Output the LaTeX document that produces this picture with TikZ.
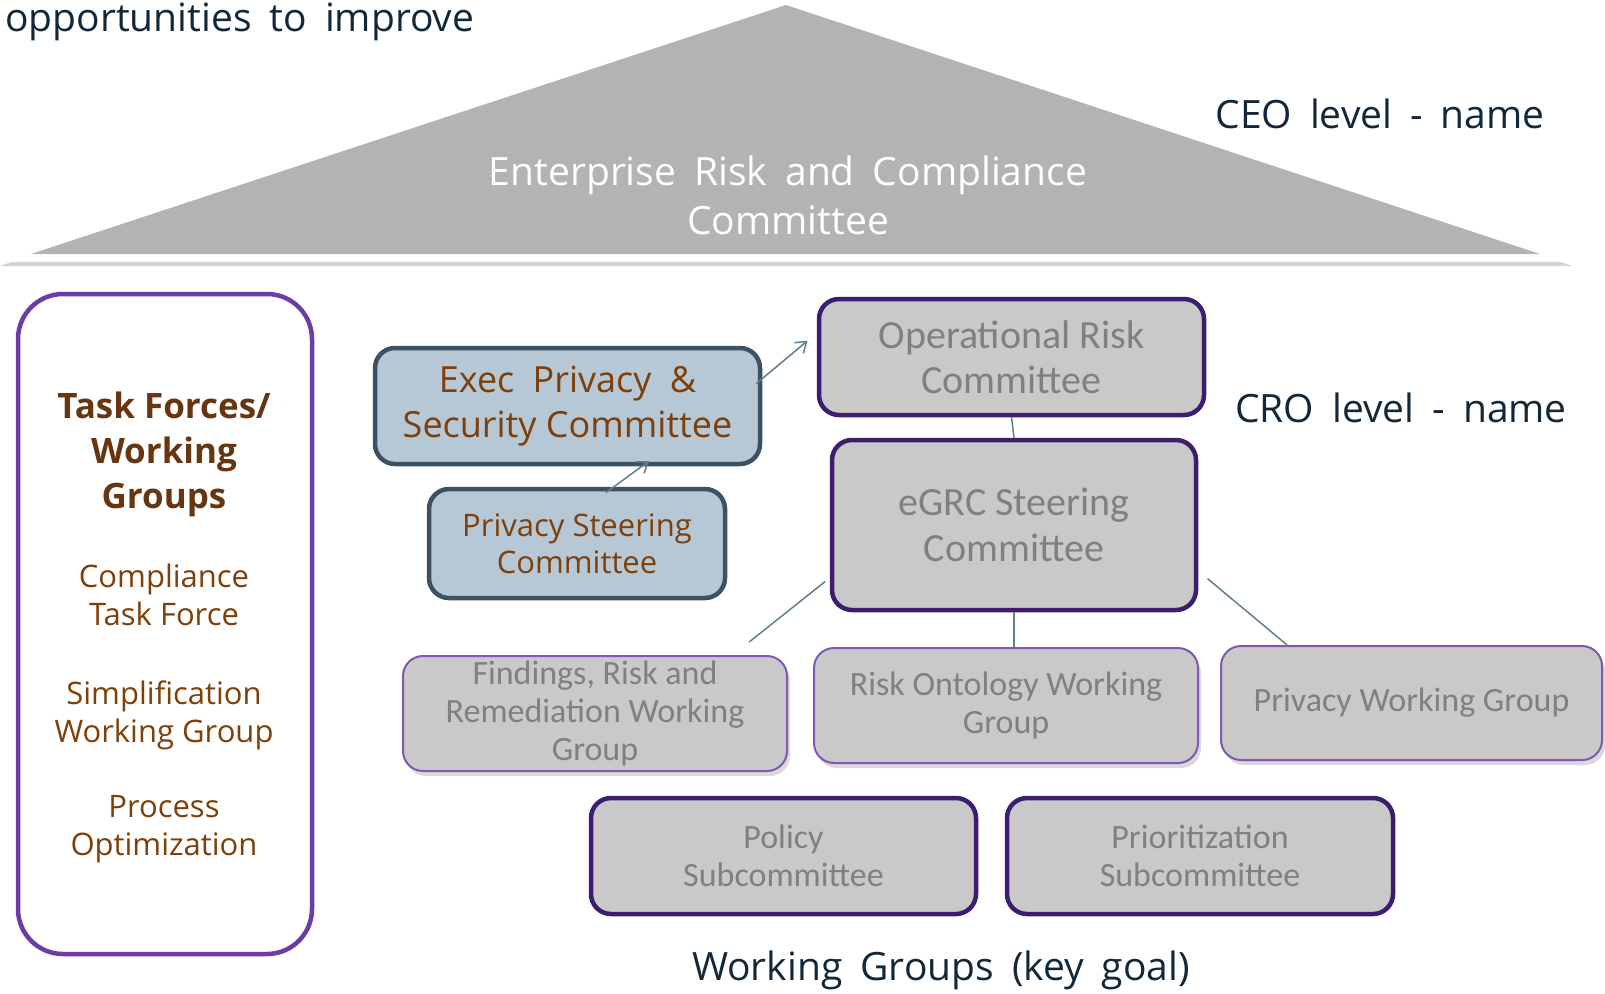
\documentclass[tikz,border=0pt]{standalone}
\usepackage{fontspec}
\setmainfont{Carlito}
\newfontfamily\labelfont{Open Sans}
\usetikzlibrary{arrows.meta, shadows}
\newcommand\widespaces{\spaceskip=18pt\relax}
\definecolor{trigray}{HTML}{B3B3B3}
\definecolor{boxgray}{HTML}{C9C9C9}
\definecolor{textgray}{HTML}{808080}
\definecolor{darkpurple}{HTML}{3F1D6E}
\definecolor{lightpurple}{HTML}{7E58B2}
\definecolor{framepurple}{HTML}{6A3CA6}
\definecolor{paleslate}{HTML}{B6C7D5}
\definecolor{slateline}{HTML}{3D5161}
\definecolor{linkblue}{HTML}{5E7F92}
\definecolor{textbrown}{HTML}{7E3F08}
\definecolor{headbrown}{HTML}{683511}
\definecolor{labelnavy}{HTML}{12283A}

\tikzset{
  basebox/.style={rounded corners=20pt, align=center, inner sep=0pt,
    minimum width=385pt, minimum height=116pt},
  thickbox/.style={basebox, draw=darkpurple, line width=4.5pt, fill=boxgray, text=textgray},
  thinbox/.style={basebox, draw=lightpurple, line width=2pt, fill=boxgray, text=textgray,
    drop shadow={shadow xshift=3pt, shadow yshift=-5pt, opacity=.3}},
  slatebox/.style={basebox, draw=slateline, line width=4.5pt, fill=paleslate, text=textbrown},
  levellabel/.style={text=labelnavy, font=\labelfont\fontsize{39}{45}\selectfont\widespaces, inner sep=0pt},
  tasktext/.style={text=textbrown, align=center, font=\labelfont\fontsize{31}{38}\selectfont},
  link/.style={draw=linkblue, line width=1.5pt},
  flow/.style={link, -{Straight Barb[length=10pt, width=14pt]}},
}

\begin{document}
\begin{tikzpicture}[x=1pt, y=-1pt]
  \useasboundingbox (0,0) rectangle (1605,993);

  % roof
  \fill[white, drop shadow={shadow xshift=0pt, shadow yshift=-4pt, opacity=.35}]
    (786,-14) -- (0,262) -- (1572,262) -- cycle;
  \fill[trigray] (786,5) -- (31,254) -- (1540,254) -- cycle;
  \node[text=white, align=center, font=\labelfont\fontsize{39}{49}\selectfont\widespaces] (erc) at (788,195)
    {Enterprise Risk and Compliance\\Committee};

  \node[levellabel, anchor=base west] (improve) at (5,31) {opportunities to improve};
  \node[levellabel] (ceo) at (1380,114) {CEO level - name};
  \node[levellabel] (cro) at (1401,408) {CRO level - name};
  \node[levellabel] (goal) at (941,970) {Working Groups (key goal)};

  % task forces
  \node[draw=framepurple, line width=4.5pt, rounded corners=45pt,
    minimum width=294pt, minimum height=660pt] (tasks) at (165,624) {};
  \node[text=headbrown, align=center, font=\labelfont\bfseries\fontsize{35}{45}\selectfont] (taskhead) at (164,454)
    {Task Forces/\\Working\\Groups};
  \foreach \name/\ypos/\txt in {compl/595/Compliance\\Task Force,
                               simpl/715/Simplification\\Working Group,
                               proc/829/Process\\Optimization}
    \node[tasktext] (\name) at (164,\ypos) {\txt};

  % privacy side
  \node[slatebox, font=\labelfont\fontsize{36}{45}\selectfont] (exec) at (567.5,406)
    {Exec\hspace{9pt} Privacy\hspace{9pt} \&\\Security Committee};
  \node[slatebox, minimum width=296pt, minimum height=109pt, font=\labelfont\fontsize{31}{37}\selectfont] (psc) at (577,543.5)
    {Privacy Steering\\Committee};

  % committees
  \node[thickbox, font=\fontsize{40}{45}\selectfont] (opr) at (1011.5,357) {Operational Risk\\Committee};
  \node[thickbox, minimum width=364pt, minimum height=170pt, font=\fontsize{40}{46}\selectfont] (egrc) at (1014,525)
    {eGRC Steering\\Committee};

  % working groups
  \node[thinbox, minimum width=384pt, minimum height=115pt, font=\fontsize{34}{38}\selectfont] (findings) at (595,713.5)
    {Findings, Risk and\\Remediation Working\\Group};
  \node[thinbox, minimum width=384pt, minimum height=115pt, font=\fontsize{34}{38}\selectfont] (onto) at (1006,705.5)
    {Risk Ontology Working\\Group};
  \node[thinbox, minimum width=381pt, minimum height=114pt, font=\fontsize{34}{38}\selectfont] (pwg) at (1411.5,703)
    {Privacy Working Group};

  \node[thickbox, font=\fontsize{34}{38}\selectfont] (policy) at (783.5,856) {Policy\\Subcommittee};
  \node[thickbox, minimum width=386pt, font=\fontsize{34}{38}\selectfont] (prio) at (1200,856) {Prioritization\\Subcommittee};

  % connectors
  \draw[flow, shorten <=-8pt, shorten >=12pt] (exec.8) -- (opr.173);
  \draw[flow, shorten <=-10pt, shorten >=-9pt] (psc.57) -- (exec.321);
  \draw[link] (opr.south) -- (egrc.north);
  \draw[link] (egrc.south) -- (egrc.south |- onto.north);
  \draw[link, shorten <=6pt, shorten >=21pt] (egrc.196) -- (findings.23);
  \draw[link, shorten <=12pt] (egrc.-14) -- (pwg.155);
\end{tikzpicture}
\end{document}
